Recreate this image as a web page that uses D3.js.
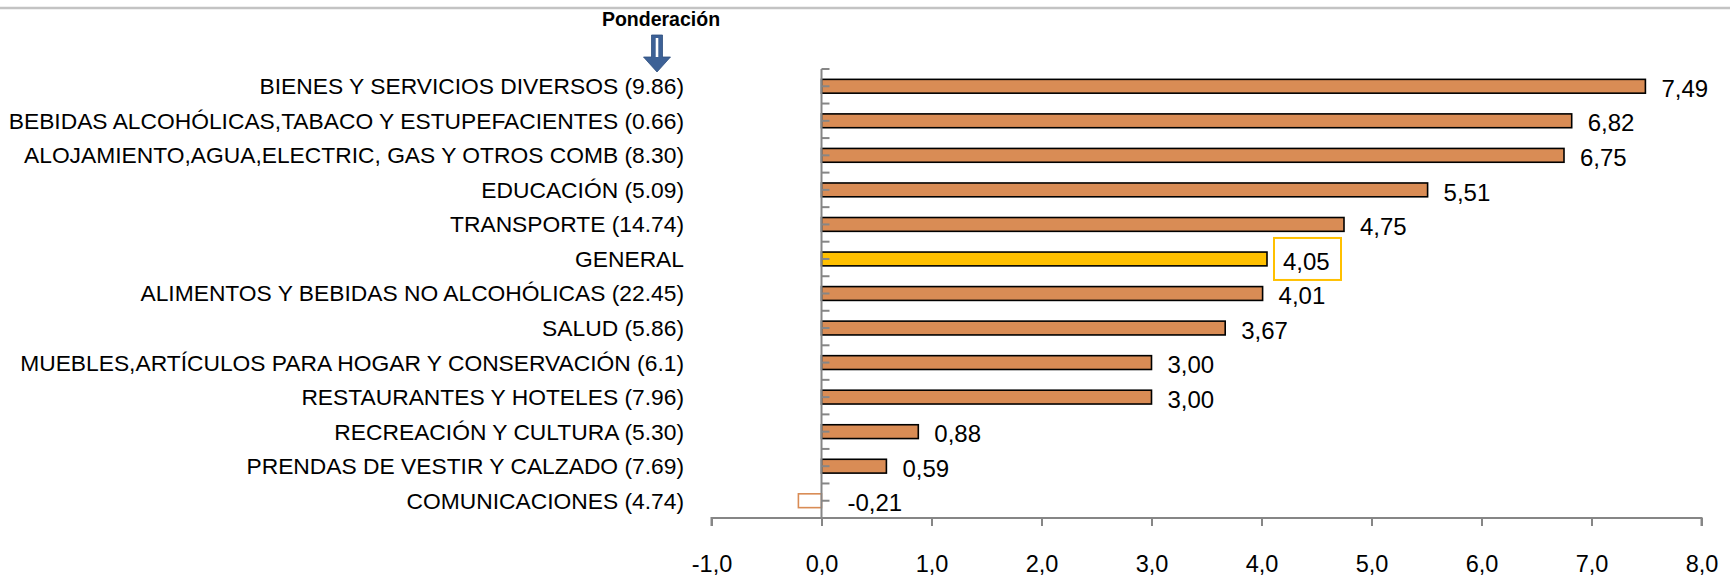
<!DOCTYPE html>
<html>
<head>
<meta charset="utf-8">
<script src="https://cdn.jsdelivr.net/npm/d3@7"></script>
<style>
  html, body { margin: 0; padding: 0; background: #fff; }
  svg { display: block; font-family: "Liberation Sans", Arial, sans-serif; }
</style>
</head>
<body>
<svg id="chart" width="1731" height="578"></svg>
<script>
'use strict';

// categories with their weights (ponderación), top to bottom
var categories = [
  'BIENES Y SERVICIOS DIVERSOS (9.86)',
  'BEBIDAS ALCOHÓLICAS,TABACO Y ESTUPEFACIENTES (0.66)',
  'ALOJAMIENTO,AGUA,ELECTRIC, GAS Y OTROS COMB (8.30)',
  'EDUCACIÓN (5.09)',
  'TRANSPORTE (14.74)',
  'GENERAL ',
  'ALIMENTOS Y BEBIDAS NO ALCOHÓLICAS (22.45)',
  'SALUD (5.86)',
  'MUEBLES,ARTÍCULOS PARA HOGAR Y CONSERVACIÓN (6.1)',
  'RESTAURANTES Y HOTELES (7.96)',
  'RECREACIÓN Y CULTURA (5.30)',
  'PRENDAS DE VESTIR Y CALZADO (7.69)',
  'COMUNICACIONES (4.74)'
];
var values = [7.49, 6.82, 6.75, 5.51, 4.75, 4.05, 4.01, 3.67, 3.00, 3.00, 0.88, 0.59, -0.21];
var highlight = 'GENERAL ';
var xTicks = [-1, 0, 1, 2, 3, 4, 5, 6, 7, 8];

var orange = '#d98c55', yellow = '#ffc000', axisGrey = '#868686';
var font = '"Liberation Sans", Arial, sans-serif';

var locale = d3.formatLocale({decimal: ',', thousands: '.', grouping: [3],
                              currency: ['', ''], minus: '-'});
var fmtVal = locale.format('.2f'), fmtTick = locale.format('.1f');

var svg = d3.select('#chart');

var x = d3.scaleLinear().domain([-1, 8]).range([711.5, 1701.5]);
var y = d3.scaleBand().domain(categories).range([69, 518])
  .paddingInner(0.6).paddingOuter(0.3);

// thin grey rule along the top
svg.append('line').attr('x1', 0).attr('x2', 1730).attr('y1', 8).attr('y2', 8)
  .attr('stroke', '#c3c3c3').attr('stroke-width', 2.5);

// bars
var rows = categories.map(function(c, i) { return {cat: c, v: values[i]}; });
svg.append('g').selectAll('rect').data(rows).enter().append('rect')
  .attr('x', function(d) { return x(Math.min(0, d.v)); })
  .attr('y', function(d) { return y(d.cat); })
  .attr('width', function(d) { return Math.abs(x(d.v) - x(0)); })
  .attr('height', y.bandwidth())
  .attr('fill', function(d) {
    return d.v < 0 ? '#fff' : (d.cat == highlight ? yellow : orange);
  })
  .attr('stroke', function(d) { return d.v < 0 ? orange : '#000'; })
  .attr('stroke-width', 1.6);

// vertical category axis: ticks between and at the middle of each category
var x0 = x(0), step = y.step(), yTop = y.range()[0];
var yax = svg.append('g').attr('stroke', axisGrey).attr('stroke-width', 2);
yax.append('line').attr('x1', x0).attr('x2', x0)
  .attr('y1', yTop).attr('y2', y.range()[1]);
var tickYs = d3.range(categories.length).map(function(i) { return yTop + i * step; })
  .concat(categories.map(function(c) { return y(c) + y.bandwidth() / 2; }));
yax.selectAll('line.tk').data(tickYs).enter().append('line').attr('class', 'tk')
  .attr('x1', x0).attr('x2', x0 + 8).attr('y1', function(d) { return d; })
  .attr('y2', function(d) { return d; });

// horizontal value axis
var xax = svg.append('g').attr('transform', 'translate(0,518)');
xax.call(d3.axisBottom(x).tickValues(xTicks).tickSize(8).tickPadding(29)
  .tickFormat(fmtTick));
xax.select('.domain').attr('stroke', axisGrey).attr('stroke-width', 2)
  .attr('d', 'M' + x.range()[0] + ',8V0H' + x.range()[1] + 'V8');
xax.selectAll('.tick line').attr('stroke', axisGrey).attr('stroke-width', 2);
xax.selectAll('.tick text').attr('font-family', font)
  .attr('font-size', 23.5).attr('fill', '#000');

// category labels
svg.append('g').selectAll('text').data(categories).enter().append('text')
  .attr('x', 684).attr('y', function(d) { return y(d) + y.bandwidth() / 2; })
  .attr('dy', '0.35em').attr('text-anchor', 'end')
  .attr('font-size', 22.8).attr('fill', '#000')
  .text(function(d) { return d; });

// value labels
var vl = svg.append('g').selectAll('g').data(rows).enter().append('g')
  .attr('transform', function(d) {
    var lx = d.v < 0 ? x(0) + 26 : x(d.v) + 16;
    return 'translate(' + lx + ',' + (y(d.cat) + y.bandwidth() / 2 + 2) + ')';
  });
vl.filter(function(d) { return d.cat == highlight; }).append('rect')
  .attr('x', -9).attr('y', -23).attr('width', 67).attr('height', 42)
  .attr('fill', '#fff').attr('stroke', yellow).attr('stroke-width', 2);
vl.append('text').attr('dy', '0.36em').attr('font-size', 24).attr('fill', '#000')
  .text(function(d) { return fmtVal(d.v); });

// "Ponderación" header with down arrow
svg.append('text').attr('x', 661).attr('y', 26).attr('text-anchor', 'middle')
  .attr('font-weight', 'bold').attr('font-size', 19.5).text('Ponderación');
var ar = svg.append('g').attr('transform', 'translate(657,35)');
ar.append('path')
  .attr('d', 'M-5.5,0H5.5V22H13.5L0,37L-13.5,22H-5.5Z')
  .attr('fill', '#3d6196').attr('stroke', '#2f4f7f').attr('stroke-width', 0.8);
ar.append('rect').attr('x', -1.3).attr('y', 3).attr('width', 2.6).attr('height', 19)
  .attr('fill', '#fff');
</script>
</body>
</html>
